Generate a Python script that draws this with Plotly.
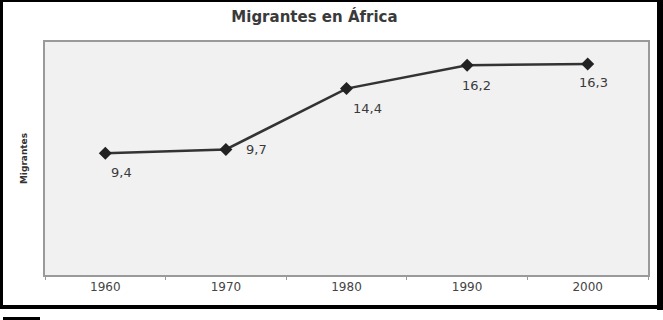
import plotly.graph_objects as go

years = ["1960", "1970", "1980", "1990", "2000"]
migrants = [9.4, 9.7, 14.4, 16.2, 16.3]
labels = ["9,4", "9,7", "14,4", "16,2", "16,3"]
label_shift_x = [16, 31, 21, 9, 6]
label_shift_y = [-19, 0, -20, -20, -18]

W, H = 663, 320
L, R, T, B = 45, 648, 42, 275  # plot area in px
pw, ph = R - L, B - T

def px(x):
    return (x - L) / pw

def py(y):
    return (B - y) / ph

fig = go.Figure()
fig.add_trace(go.Scatter(
    x=years, y=migrants, mode="lines+markers",
    line=dict(color="#333333", width=2.5),
    marker=dict(symbol="diamond", size=10, color="#222222"),
    hoverinfo="skip", showlegend=False,
))

for i, (y, t, sx, sy) in enumerate(zip(migrants, labels, label_shift_x, label_shift_y)):
    fig.add_annotation(x=i, y=y, xref="x", yref="y", text=t, showarrow=False,
                       xshift=sx, yshift=sy,
                       font=dict(family="DejaVu Sans", size=13, color="#3a3a3a"))

# outer black frame (scanned page border)
frame = [
    (0, 0, 3, 306),      # left
    (0, 0, 663, 2),      # top
    (657, 0, 663, 310),  # right
    (0, 305, 663, 309),  # bottom
    (3, 317, 40, 320),   # small mark below
]
for x0, y0, x1, y1 in frame:
    fig.add_shape(type="rect", xref="paper", yref="paper",
                  x0=px(x0), x1=px(x1), y0=py(y1), y1=py(y0),
                  fillcolor="black", line=dict(width=0), layer="above")

fig.update_layout(
    width=W, height=H,
    margin=dict(l=L, r=W - R, t=T, b=H - B),
    paper_bgcolor="white", plot_bgcolor="#f1f1f1",
    title=dict(text="<b>Migrantes en África</b>", x=px(331), xanchor="center",
               y=1 - 17 / H, yanchor="middle",
               font=dict(family="DejaVu Sans", size=15, color="#3a3a3a")),
    xaxis=dict(type="category", range=[-0.5, 4.5], showgrid=False,
               showline=True, linecolor="#9a9a9a", linewidth=2, mirror=True,
               ticks="outside", tickson="boundaries", ticklen=3, tickcolor="#9a9a9a",
               tickfont=dict(family="DejaVu Sans", size=12, color="#444444"),
               zeroline=False),
    yaxis=dict(range=[0, 18], showgrid=False, showticklabels=False,
               showline=True, linecolor="#9a9a9a", linewidth=2, mirror=True,
               zeroline=False, ticks="",
               title=dict(text="<b>Migrantes</b>", standoff=14,
                          font=dict(family="DejaVu Sans", size=9, color="#333333"))),
)

fig.write_html("out.html")
